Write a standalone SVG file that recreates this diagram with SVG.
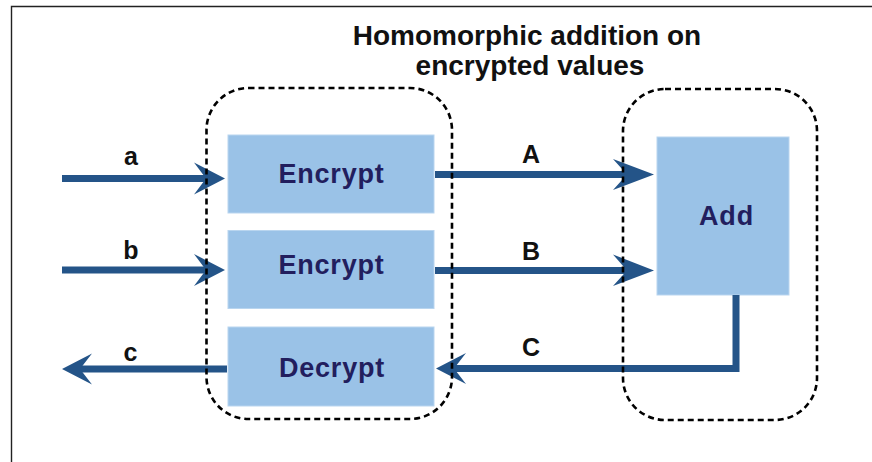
<svg xmlns="http://www.w3.org/2000/svg" width="872" height="462" viewBox="0 0 872 462">
  <style>
    .frame { fill: none; stroke: #222; stroke-width: 1.4; }
    .box { fill: #9AC2E7; stroke: #B9D5EF; stroke-width: 1; }
    .box-text { font-family: "Liberation Sans", Arial, sans-serif; font-weight: bold; font-size: 27px; fill: #221E5E; text-anchor: middle; letter-spacing: 0.8px; }
    .title { font-family: "Liberation Sans", Arial, sans-serif; font-weight: bold; font-size: 28px; fill: #111; text-anchor: middle; }
    .label { font-family: "Liberation Sans", Arial, sans-serif; font-weight: bold; font-size: 25px; fill: #111; text-anchor: middle; }
    .wire { fill: none; stroke: #245488; stroke-width: 7; }
    .head { fill: #245488; }
    .zone { fill: none; stroke: #000; stroke-width: 2.6; stroke-dasharray: 6 4; }
  </style>

  <rect width="872" height="462" fill="#fff"/>
  <!-- page frame (top and left edges) -->
  <path class="frame" d="M11.5 462 V6.5 H872"/>

  <!-- title -->
  <text class="title" x="527" y="45">Homomorphic addition on</text>
  <text class="title" x="530" y="75">encrypted values</text>

  <!-- processing blocks -->
  <g id="encrypt-a">
    <rect class="box" x="228" y="135" width="206" height="78"/>
    <text class="box-text" x="331.5" y="182.5">Encrypt</text>
  </g>
  <g id="encrypt-b">
    <rect class="box" x="228" y="230.5" width="206" height="78"/>
    <text class="box-text" x="331.5" y="273.5">Encrypt</text>
  </g>
  <g id="decrypt-c">
    <rect class="box" x="228" y="327" width="206" height="79"/>
    <text class="box-text" x="332" y="376.5">Decrypt</text>
  </g>
  <g id="add">
    <rect class="box" x="657" y="137" width="132" height="158"/>
    <text class="box-text" x="726.5" y="225">Add</text>
  </g>

  <!-- connectors -->
  <g id="connectors">
    <!-- a -> Encrypt -->
    <path class="wire" d="M62 178.5 H208"/>
    <polygon class="head" points="225,178.5 194,162.5 206,178.5 194,194.5"/>
    <text class="label" x="131" y="165">a</text>
    <!-- b -> Encrypt -->
    <path class="wire" d="M62 270 H208"/>
    <polygon class="head" points="225,270 194,254 206,270 194,286"/>
    <text class="label" x="131" y="259">b</text>
    <!-- Decrypt -> c -->
    <path class="wire" d="M227 369 H80"/>
    <polygon class="head" points="62,369 92,353.5 80,369 92,384.5"/>
    <text class="label" x="130.5" y="361">c</text>
    <!-- Encrypt -> Add (A) -->
    <path class="wire" d="M435 174.5 H628"/>
    <polygon class="head" points="654,174.5 613,159 627,174.5 613,190"/>
    <text class="label" x="531" y="163">A</text>
    <!-- Encrypt -> Add (B) -->
    <path class="wire" d="M435 270.5 H628"/>
    <polygon class="head" points="654,270.5 613,254.5 627,270.5 613,286"/>
    <text class="label" x="531" y="259.5">B</text>
    <!-- Add -> Decrypt (C) -->
    <path class="wire" d="M736 295 V368.5 H452"/>
    <polygon class="head" points="436,368.5 466,353 454,368.5 466,384"/>
    <text class="label" x="531" y="355.5">C</text>
  </g>

  <!-- dashed boundaries -->
  <g id="client-zone">
    <rect class="zone" x="206.5" y="88" width="245.5" height="331" rx="42" ry="42"/>
  </g>
  <g id="server-zone">
    <rect class="zone" x="623" y="89" width="194" height="331" rx="42" ry="42"/>
  </g>
</svg>
